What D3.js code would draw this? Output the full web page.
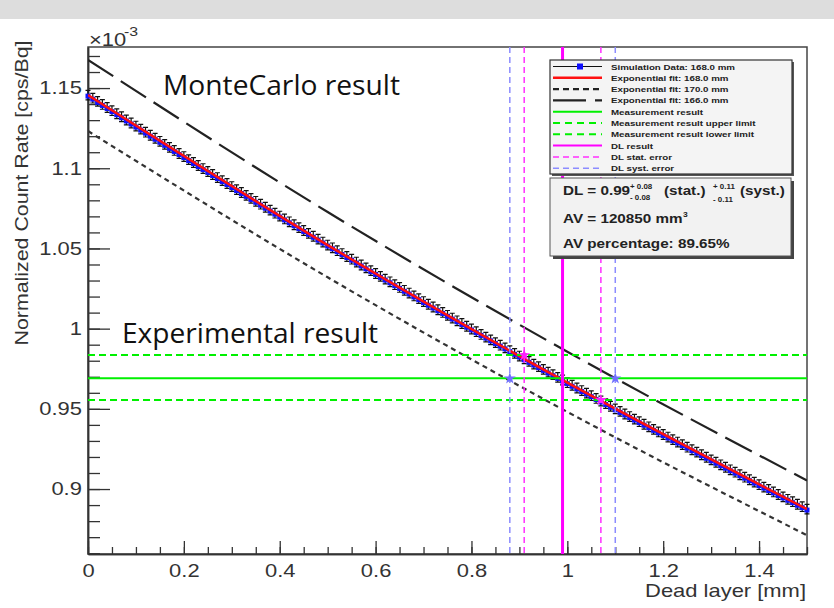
<!DOCTYPE html>
<html>
<head>
<meta charset="utf-8">
<script src="https://cdn.jsdelivr.net/npm/d3@7"></script>
<style>
  body { margin: 0; background: #fff; }
  svg text { font-family: "Liberation Sans", Arial, sans-serif; }
</style>
</head>
<body>
<script>
var width = 834
var height = 608

// simulation data (x10^-3 cps/Bq), one point every 0.01 mm from 0 to 1.5 mm
var simStart = 0
var simStep = 0.01
var simValues = [
  1.1456, 1.1437, 1.1417, 1.1398, 1.1379, 1.1359, 1.1340, 1.1321, 1.1301, 1.1282,
  1.1263, 1.1244, 1.1225, 1.1206, 1.1187, 1.1168, 1.1149, 1.1130, 1.1111, 1.1092,
  1.1073, 1.1054, 1.1036, 1.1017, 1.0998, 1.0980, 1.0961, 1.0942, 1.0923, 1.0905,
  1.0886, 1.0867, 1.0849, 1.0831, 1.0812, 1.0794, 1.0776, 1.0757, 1.0739, 1.0720,
  1.0702, 1.0684, 1.0666, 1.0648, 1.0630, 1.0612, 1.0594, 1.0576, 1.0558, 1.0540,
  1.0521, 1.0504, 1.0486, 1.0468, 1.0450, 1.0433, 1.0415, 1.0397, 1.0379, 1.0362,
  1.0344, 1.0326, 1.0309, 1.0292, 1.0274, 1.0257, 1.0239, 1.0222, 1.0204, 1.0187,
  1.0169, 1.0152, 1.0135, 1.0118, 1.0101, 1.0083, 1.0066, 1.0049, 1.0032, 1.0015,
  0.9998, 0.9981, 0.9964, 0.9947, 0.9930, 0.9913, 0.9897, 0.9880, 0.9863, 0.9846,
  0.9829, 0.9812, 0.9796, 0.9779, 0.9763, 0.9746, 0.9729, 0.9713, 0.9696, 0.9680,
  0.9663, 0.9647, 0.9630, 0.9614, 0.9598, 0.9582, 0.9565, 0.9549, 0.9533, 0.9516,
  0.9500, 0.9484, 0.9468, 0.9452, 0.9436, 0.9420, 0.9404, 0.9388, 0.9372, 0.9356,
  0.9340, 0.9324, 0.9308, 0.9293, 0.9277, 0.9261, 0.9245, 0.9230, 0.9214, 0.9198,
  0.9182, 0.9167, 0.9151, 0.9136, 0.9120, 0.9105, 0.9089, 0.9074, 0.9058, 0.9043,
  0.9027, 0.9012, 0.8997, 0.8982, 0.8966, 0.8951, 0.8936, 0.8921, 0.8905, 0.8890,
  0.8875
]
var simErr = 0.003

// exponential fits read at a few dead layer values
var fitX = [0, 0.5, 1.0, 1.5]
var fit168 = [1.1456, 1.0521, 0.9663, 0.8875]
var fit170 = [1.1232, 1.0320, 0.9481, 0.8712]
var fit166 = [1.1676, 1.0727, 0.9856, 0.9053]

var measValue = 0.969
var measUpper = 0.9835
var measLower = 0.9555

var dlValue = 0.99
var dlStat = [0.91, 1.07]
var dlSyst = [0.88, 1.10]
var statMarkY = [0.9835, 0.9555]
var systMarkY = [0.969, 0.969]

var xTicks = [0, 0.2, 0.4, 0.6, 0.8, 1.0, 1.2, 1.4]
var xTickLabels = ["0", "0.2", "0.4", "0.6", "0.8", "1", "1.2", "1.4"]
var yTicks = [0.9, 0.95, 1.0, 1.05, 1.1, 1.15]
var yTickLabels = ["0.9", "0.95", "1", "1.05", "1.1", "1.15"]

var legendLabels = [
  "Simulation Data: 168.0 mm",
  "Exponential fit: 168.0 mm",
  "Exponential fit: 170.0 mm",
  "Exponential fit: 166.0 mm",
  "Measurement result",
  "Measurement result upper limit",
  "Measurement result lower limit",
  "DL result",
  "DL stat. error",
  "DL syst. error"
]

var SX = 1.22   // picture is stretched sideways

var svg = d3.select("body").append("svg")
    .attr("width", width)
    .attr("height", height)

svg.append("rect").attr("width", width).attr("height", height).attr("fill", "#fff")
svg.append("rect").attr("width", width).attr("height", 19).attr("fill", "#dddddd")

var x = d3.scaleLinear().domain([0, 1.5]).range([88, 807])
var y = d3.scaleLinear().domain([0.8595, 1.1756]).range([554, 47])

function label(g, px, py, str, size, anchor, weight, sx) {
  return g.append("text")
    .attr("transform", "translate(" + px + "," + py + ") scale(" + (sx || SX) + ",1)")
    .attr("text-anchor", anchor || "start")
    .attr("font-size", size)
    .attr("font-weight", weight || "normal")
    .text(str)
}

svg.append("clipPath").attr("id", "plotclip")
  .append("rect").attr("x", 88).attr("y", 47).attr("width", 719).attr("height", 507)

// frame
svg.append("rect")
    .attr("x", 88).attr("y", 47).attr("width", 719).attr("height", 507)
    .attr("fill", "none").attr("stroke", "#444").attr("stroke-width", 1.5)

// axes, ticks pointing inwards like ROOT
svg.append("g").attr("transform", "translate(0,554)")
    .call(d3.axisBottom(x).tickValues(d3.range(0, 1.5001, 0.05)).tickSizeInner(-7).tickSizeOuter(0).tickFormat(""))
var xAxis = svg.append("g").attr("transform", "translate(0,554)")
    .call(d3.axisBottom(x).tickValues(xTicks).tickSizeInner(-13).tickSizeOuter(0).tickPadding(10)
      .tickFormat(function(d, i) { return xTickLabels[i] }))
svg.append("g").attr("transform", "translate(88,0)")
    .call(d3.axisLeft(y).tickValues(d3.range(0.86, 1.1751, 0.01)).tickSizeInner(-12).tickSizeOuter(0).tickFormat(""))
var yAxis = svg.append("g").attr("transform", "translate(88,0)")
    .call(d3.axisLeft(y).tickValues(yTicks).tickSizeInner(-22).tickSizeOuter(0).tickPadding(5)
      .tickFormat(function(d, i) { return yTickLabels[i] }))

svg.selectAll(".domain").attr("stroke", "#333").attr("stroke-width", 1.5)
svg.selectAll(".tick line").attr("stroke", "#333").attr("stroke-width", 1.3)
xAxis.selectAll("text").attr("font-size", 18).attr("fill", "#333").attr("font-family", null)
    .attr("transform", "scale(" + SX + ",1)")
yAxis.selectAll("text").attr("font-size", 18).attr("fill", "#333").attr("font-family", null)
    .attr("transform", "scale(" + SX + ",1)")

// axis titles
label(svg, 806, 597, "Dead layer [mm]", 18, "end").attr("fill", "#333")
svg.append("text")
    .attr("transform", "translate(28,193) rotate(-90)")
    .attr("text-anchor", "middle")
    .attr("font-size", 19)
    .attr("fill", "#333")
    .attr("textLength", 305).attr("lengthAdjust", "spacingAndGlyphs")
    .text("Normalized Count Rate [cps/Bq]")
label(svg, 89, 46, "\u00d710", 18).attr("fill", "#333")
label(svg, 124, 36, "-3", 13).attr("fill", "#333")

// simulation points with error bars
var plot = svg.append("g")
var sim = simValues.map(function(v, i) { return { x: simStart + i * simStep, y: v } })

plot.append("g").selectAll("path").data(sim).enter()
    .append("path")
    .attr("d", function(d) {
      var px = x(d.x), t = y(d.y + simErr), b = y(d.y - simErr)
      return "M" + (px - 2.5) + "," + t + "H" + (px + 2.5) + "M" + px + "," + t + "V" + b +
             "M" + (px - 2.5) + "," + b + "H" + (px + 2.5)
    })
    .attr("stroke", "#111").attr("stroke-width", 1.2).attr("fill", "none")

plot.append("g").selectAll("rect").data(sim).enter()
    .append("rect")
    .attr("x", function(d) { return x(d.x) - 2.5 })
    .attr("y", function(d) { return y(d.y) - 1.5 })
    .attr("width", 5).attr("height", 5)
    .attr("fill", "#1010ff")

// fits and result lines on top of the data
var lineClip = svg.append("g").attr("clip-path", "url(#plotclip)")

var fitLine = d3.line()
    .x(function(d) { return x(d[0]) })
    .y(function(d) { return y(d[1]) })
    .curve(d3.curveMonotoneX)

function fitPoints(vals) { return fitX.map(function(v, i) { return [v, vals[i]] }) }

lineClip.append("path").attr("d", fitLine(fitPoints(fit166)))
    .attr("fill", "none").attr("stroke", "#222").attr("stroke-width", 2.2).attr("stroke-dasharray", "30,9")
lineClip.append("path").attr("d", fitLine(fitPoints(fit170)))
    .attr("fill", "none").attr("stroke", "#333").attr("stroke-width", 2.2).attr("stroke-dasharray", "5,4")
lineClip.append("path").attr("d", fitLine(fitPoints(fit168)))
    .attr("fill", "none").attr("stroke", "#ff1010").attr("stroke-width", 2.5)

var hLines = [
  { v: measValue, dash: null },
  { v: measUpper, dash: "7,4" },
  { v: measLower, dash: "7,4" }
]
lineClip.selectAll(".hline").data(hLines).enter()
    .append("line").attr("class", "hline")
    .attr("x1", x(0)).attr("x2", x(1.5))
    .attr("y1", function(d) { return y(d.v) }).attr("y2", function(d) { return y(d.v) })
    .attr("stroke", "#00f000").attr("stroke-width", 2)
    .attr("stroke-dasharray", function(d) { return d.dash })

var vLines = [
  { v: dlSyst[0], c: "#8c8cff", w: 1.5, dash: "6,4" },
  { v: dlSyst[1], c: "#8c8cff", w: 1.5, dash: "6,4" },
  { v: dlStat[0], c: "#ff30ff", w: 1.5, dash: "6,4" },
  { v: dlStat[1], c: "#ff30ff", w: 1.5, dash: "6,4" },
  { v: dlValue, c: "#ff00ff", w: 3, dash: null }
]
lineClip.selectAll(".vline").data(vLines).enter()
    .append("line").attr("class", "vline")
    .attr("x1", function(d) { return x(d.v) }).attr("x2", function(d) { return x(d.v) })
    .attr("y1", y.range()[1]).attr("y2", y.range()[0])
    .attr("stroke", function(d) { return d.c }).attr("stroke-width", function(d) { return d.w })
    .attr("stroke-dasharray", function(d) { return d.dash })

var star = d3.symbol().type(d3.symbolStar).size(45)
svg.selectAll(".smark").data(dlSyst).enter()
    .append("path").attr("class", "smark")
    .attr("transform", function(d, i) { return "translate(" + x(d) + "," + y(systMarkY[i]) + ")" })
    .attr("d", star).attr("fill", "#7070ff")
svg.selectAll(".tmark").data(dlStat).enter()
    .append("path").attr("class", "tmark")
    .attr("transform", function(d, i) { return "translate(" + x(d) + "," + y(statMarkY[i]) + ")" })
    .attr("d", star).attr("fill", "#ff20ff")

// annotations
svg.append("text").attr("x", 163).attr("y", 95)
    .style("font-family", "'Open Sans', sans-serif").attr("font-size", 27).attr("fill", "#111")
    .attr("textLength", 237).attr("lengthAdjust", "spacingAndGlyphs")
    .text("MonteCarlo result")
svg.append("text").attr("x", 122).attr("y", 343)
    .style("font-family", "'Open Sans', sans-serif").attr("font-size", 27).attr("fill", "#111")
    .attr("textLength", 256).attr("lengthAdjust", "spacingAndGlyphs")
    .text("Experimental result")

// legend
var legend = svg.append("g")
legend.append("rect").attr("x", 552).attr("y", 62).attr("width", 242).attr("height", 114).attr("fill", "#555")
legend.append("rect").attr("x", 550).attr("y", 60).attr("width", 242).attr("height", 114)
    .attr("fill", "#f4f4f4").attr("stroke", "#333").attr("stroke-width", 1.2)

var legendStyles = [
  { c: "#111", w: 1, dash: null },
  { c: "#ff1010", w: 2.5, dash: null },
  { c: "#222", w: 2.2, dash: "6,4" },
  { c: "#222", w: 2.2, dash: "33,9" },
  { c: "#00f000", w: 2, dash: null },
  { c: "#00f000", w: 2, dash: "7,5" },
  { c: "#00f000", w: 2, dash: "7,5" },
  { c: "#ff00ff", w: 2, dash: null },
  { c: "#ff30ff", w: 1.5, dash: "6,4" },
  { c: "#8c8cff", w: 1.5, dash: "6,4" }
]
var rowY = function(i) { return 66.5 + i * 11.3 }
legend.selectAll(".lline").data(legendStyles).enter()
    .append("line").attr("class", "lline")
    .attr("x1", 553).attr("x2", 602)
    .attr("y1", function(d, i) { return rowY(i) }).attr("y2", function(d, i) { return rowY(i) })
    .attr("stroke", function(d) { return d.c }).attr("stroke-width", function(d) { return d.w })
    .attr("stroke-dasharray", function(d) { return d.dash })
legend.append("rect").attr("x", 577).attr("y", rowY(0) - 3).attr("width", 6).attr("height", 6).attr("fill", "#1010ff")
legendLabels.forEach(function(t, i) {
  label(legend, 611, rowY(i) + 3, t, 8, "start", "bold").attr("fill", "#222")
})

// DL box
var box = svg.append("g")
box.append("rect").attr("x", 553).attr("y", 181).attr("width", 241).attr("height", 78).attr("fill", "#444")
box.append("rect").attr("x", 550).attr("y", 178).attr("width", 241).attr("height", 78)
    .attr("fill", "#f2f2f2").attr("stroke", "#555").attr("stroke-width", 1)
label(box, 563, 195, "DL = 0.99", 12.5, "start", "bold").attr("fill", "#222")
label(box, 630, 189, "+ 0.08", 6.5, "start", "bold").attr("fill", "#222")
label(box, 630, 200, "- 0.08", 6.5, "start", "bold").attr("fill", "#222")
label(box, 664, 195, "(stat.)", 12.5, "start", "bold").attr("fill", "#222")
label(box, 713, 189, "+ 0.11", 6.5, "start", "bold").attr("fill", "#222")
label(box, 713, 202, "- 0.11", 6.5, "start", "bold").attr("fill", "#222")
label(box, 740, 195, "(syst.)", 12.5, "start", "bold").attr("fill", "#222")
label(box, 563, 223, "AV = 120850 mm", 12.5, "start", "bold").attr("fill", "#222")
label(box, 683, 217, "3", 7, "start", "bold").attr("fill", "#222")
label(box, 563, 248, "AV percentage: 89.65%", 12.5, "start", "bold").attr("fill", "#222")
</script>
</body>
</html>
